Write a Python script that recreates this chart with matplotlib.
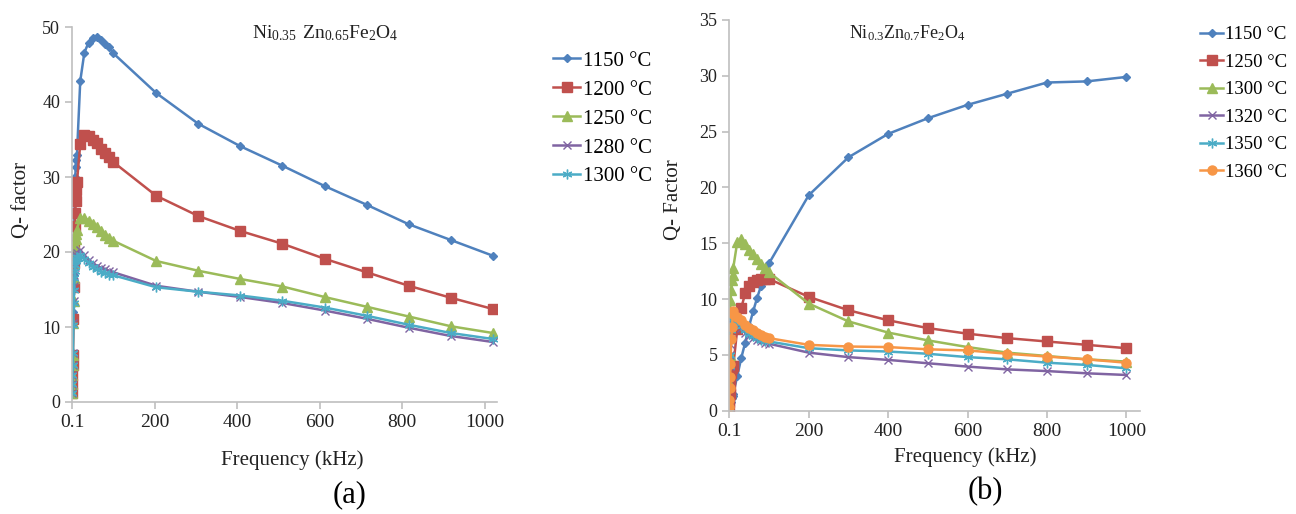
import matplotlib
matplotlib.use("Agg")
import matplotlib.pyplot as plt

plt.rcParams["font.family"] = ["Liberation Serif", "DejaVu Serif"]
plt.rcParams["mathtext.fontset"] = "custom"
plt.rcParams["mathtext.rm"] = "Liberation Serif"

# ---- (a) Ni0.35 Zn0.65 Fe2O4 ----
freq_a = [0.1, 0.5, 1, 1.5, 2, 3, 4, 5, 6, 7, 8, 9, 10, 12,
          20, 30, 40, 50, 60, 70, 80, 90, 100,
          204, 306, 408, 510, 612, 714, 816, 918, 1020]
labels_a = ["1150 °C", "1200 °C", "1250 °C", "1280 °C", "1300 °C"]
q_1150_a = [1.2, 2.4, 3.6, 5.0, 6.3, 12, 17, 21, 25, 28, 30, 31.4, 32.2, 33,
            42.8, 46.6, 47.9, 48.5, 48.7, 48.3, 47.7, 47.3, 46.5,
            41.2, 37.1, 34.1, 31.5, 28.8, 26.3, 23.7, 21.6, 19.5]
q_1200_a = [1.2, 2.4, 3.6, 5.0, 6.3, 11.1, 15.3, 18.6, 21.2, 23.5, 25.2, 26.8, 28.3, 29.3,
            34.4, 35.6, 35.5, 35.0, 34.5, 33.8, 33.2, 32.7, 32.0,
            27.5, 24.8, 22.8, 21.1, 19.1, 17.3, 15.5, 13.9, 12.4]
q_1250_a = [1.2, 2.4, 3.6, 5.0, 6.3, 10.5, 13.5, 16.5, 18.5, 20.0, 21.0, 21.8, 22.4, 23.0,
            24.6, 24.6, 24.2, 23.8, 23.3, 22.8, 22.3, 21.9, 21.5,
            18.8, 17.5, 16.4, 15.4, 14.0, 12.7, 11.4, 10.1, 9.2]
q_1280_a = [1.2, 2.4, 3.6, 5.0, 6.5, 10.5, 13.5, 15.5, 17.0, 18.0, 18.8, 19.3, 19.6, 19.9,
            20.3, 19.6, 19.0, 18.5, 18.2, 17.9, 17.7, 17.5, 17.3,
            15.5, 14.7, 14.0, 13.2, 12.2, 11.1, 9.9, 8.8, 8.0]
q_1300_a = [1.2, 2.4, 3.6, 5.0, 6.5, 10.3, 13.2, 15.0, 16.5, 17.5, 18.3, 18.8, 19.1, 19.4,
            19.6, 19.1, 18.5, 18.0, 17.7, 17.4, 17.2, 17.0, 16.9,
            15.3, 14.7, 14.2, 13.5, 12.6, 11.5, 10.3, 9.2, 8.4]

# ---- (b) Ni0.3 Zn0.7 Fe2O4 ----
freq_b = [0.1, 0.5, 1, 2, 3, 5, 7, 9,
          10, 20, 30, 40, 50, 60, 70, 80, 90, 100,
          200, 300, 400, 500, 600, 700, 800, 900, 1000]
labels_b = ["1150 °C", "1250 °C", "1300 °C", "1320 °C", "1350 °C", "1360 °C"]
q_1150_b = [0.0, 0.1, 0.2, 0.35, 0.5, 0.8, 1.1, 1.3,
            1.5, 3.1, 4.7, 6.1, 7.6, 8.9, 10.1, 11.2, 12.2, 13.2,
            19.3, 22.7, 24.8, 26.2, 27.4, 28.4, 29.4, 29.5, 29.9]
q_1250_b = [0.3, 0.8, 1.5, 2.2, 2.8, 3.4, 3.8, 4.0,
            4.0, 7.3, 9.2, 10.5, 11.2, 11.5, 11.7, 11.8, 11.8, 11.8,
            10.2, 9.0, 8.1, 7.4, 6.9, 6.5, 6.2, 5.9, 5.6]
q_1300_b = [0.0, 2.5, 5.0, 7.5, 9.9, 10.8, 11.7, 12.2,
            12.8, 15.1, 15.4, 14.9, 14.4, 14.0, 13.6, 13.1, 12.8, 12.4,
            9.6, 8.0, 7.0, 6.3, 5.7, 5.2, 4.9, 4.6, 4.4]
q_1320_b = [0.2, 2.0, 4.0, 5.0, 6.0, 7.0, 7.8, 8.2,
            8.3, 7.8, 7.4, 7.0, 6.7, 6.5, 6.3, 6.2, 6.1, 6.0,
            5.2, 4.8, 4.55, 4.25, 3.95, 3.7, 3.55, 3.35, 3.2]
q_1350_b = [0.2, 2.0, 4.0, 5.0, 6.2, 7.2, 8.0, 8.5,
            8.4, 8.0, 7.6, 7.2, 6.9, 6.7, 6.5, 6.35, 6.25, 6.2,
            5.6, 5.4, 5.3, 5.1, 4.8, 4.6, 4.3, 4.1, 3.8]
q_1360_b = [0.3, 1.0, 2.0, 3.0, 4.2, 6.4, 7.5, 8.9,
            8.7, 8.4, 8.1, 7.7, 7.4, 7.2, 6.95, 6.75, 6.6, 6.5,
            5.9, 5.75, 5.7, 5.5, 5.4, 5.1, 4.85, 4.6, 4.3]

colors = ["#4F81BD", "#C0504D", "#9BBB59", "#8064A2", "#4BACC6", "#F79646"]
markers_a = [("D", 4), ("s", 6.5), ("^", 6.5), ("x", 6), ((6, 2, 0), 7)]
markers_b = [("D", 4), ("s", 6.5), ("^", 6.5), ("x", 6), ((6, 2, 0), 7), ("o", 6.5)]

fig = plt.figure(figsize=(12.96, 5.14), dpi=100)
W, H = 1296, 514
ax_a = fig.add_axes([72 / W, (H - 402) / H, 425 / W, 375 / H])
ax_b = fig.add_axes([729.3 / W, (H - 410.7) / H, 411 / W, 390.7 / H])


def style_axis(ax, ymax, ystep, ylabel):
    for side in ("top", "right"):
        ax.spines[side].set_visible(False)
    for side in ("left", "bottom"):
        ax.spines[side].set_color("#BFBFBF")
        ax.spines[side].set_linewidth(1.2)
    ax.set_ylim(0, ymax)
    ax.set_yticks(range(0, ymax + 1, ystep))
    ax.set_xticks([0.1, 200, 400, 600, 800, 1000])
    ax.set_xticklabels(["0.1", "200", "400", "600", "800", "1000"])
    ax.tick_params(axis="both", colors="#BFBFBF", length=5, width=1.2,
                   labelcolor="#222222")
    ax.tick_params(axis="y", labelsize=13)
    ax.tick_params(axis="x", labelsize=14)
    ax.set_ylabel(ylabel, fontsize=15, color="#222222")
    ax.set_xlabel("Frequency (kHz)", fontsize=15, color="#222222")


series_a = [q_1150_a, q_1200_a, q_1250_a, q_1280_a, q_1300_a]
for q, lab, col, (mk, ms) in zip(series_a, labels_a, colors, markers_a):
    ax_a.plot(freq_a, q, color=col, lw=1.8, marker=mk, ms=ms,
              markeredgewidth=1.0, label=lab)
ax_a.set_xlim(0, 1030)
style_axis(ax_a, 50, 10, "Q- factor")
ax_a.xaxis.set_label_coords((292 - 72) / 425, -0.129)
ax_a.yaxis.set_label_coords(-0.096, (402 - 200) / 375)
ax_a.text(613, 49.2, r"$\mathrm{Ni_{0.35}\ Zn_{0.65}Fe_{2}O_{4}}$", fontsize=14,
          ha="center", va="center", color="#222222")
ax_a.legend(loc="upper left", bbox_to_anchor=(1.113, 0.958), frameon=False,
            fontsize=15, handlelength=1.3, handletextpad=0.1,
            labelspacing=0.45, borderaxespad=0)

series_b = [q_1150_b, q_1250_b, q_1300_b, q_1320_b, q_1350_b, q_1360_b]
for q, lab, col, (mk, ms) in zip(series_b, labels_b, colors, markers_b):
    ax_b.plot(freq_b, q, color=col, lw=1.8, marker=mk, ms=ms,
              markeredgewidth=1.0, label=lab)
ax_b.set_xlim(0, 1035)
style_axis(ax_b, 35, 5, "Q- Factor")
ax_b.xaxis.set_label_coords((965 - 729.3) / 411, -0.094)
ax_b.yaxis.set_label_coords(-0.113, (410.7 - 200) / 390.7)
ax_b.text(448, 33.8, r"$\mathrm{Ni_{0.3}Zn_{0.7}Fe_{2}O_{4}}$", fontsize=13,
          ha="center", va="center", color="#222222")
ax_b.legend(loc="upper left", bbox_to_anchor=(1.128, 1.003), frameon=False,
            fontsize=13.5, handlelength=1.2, handletextpad=0.1,
            labelspacing=0.55, borderaxespad=0)

fig.text(350 / W, 1 - 495 / H, "(a)", fontsize=22, ha="center", va="center")
fig.text(985 / W, 1 - 492 / H, "(b)", fontsize=22, ha="center", va="center")

fig.savefig("out.png", dpi=100)
